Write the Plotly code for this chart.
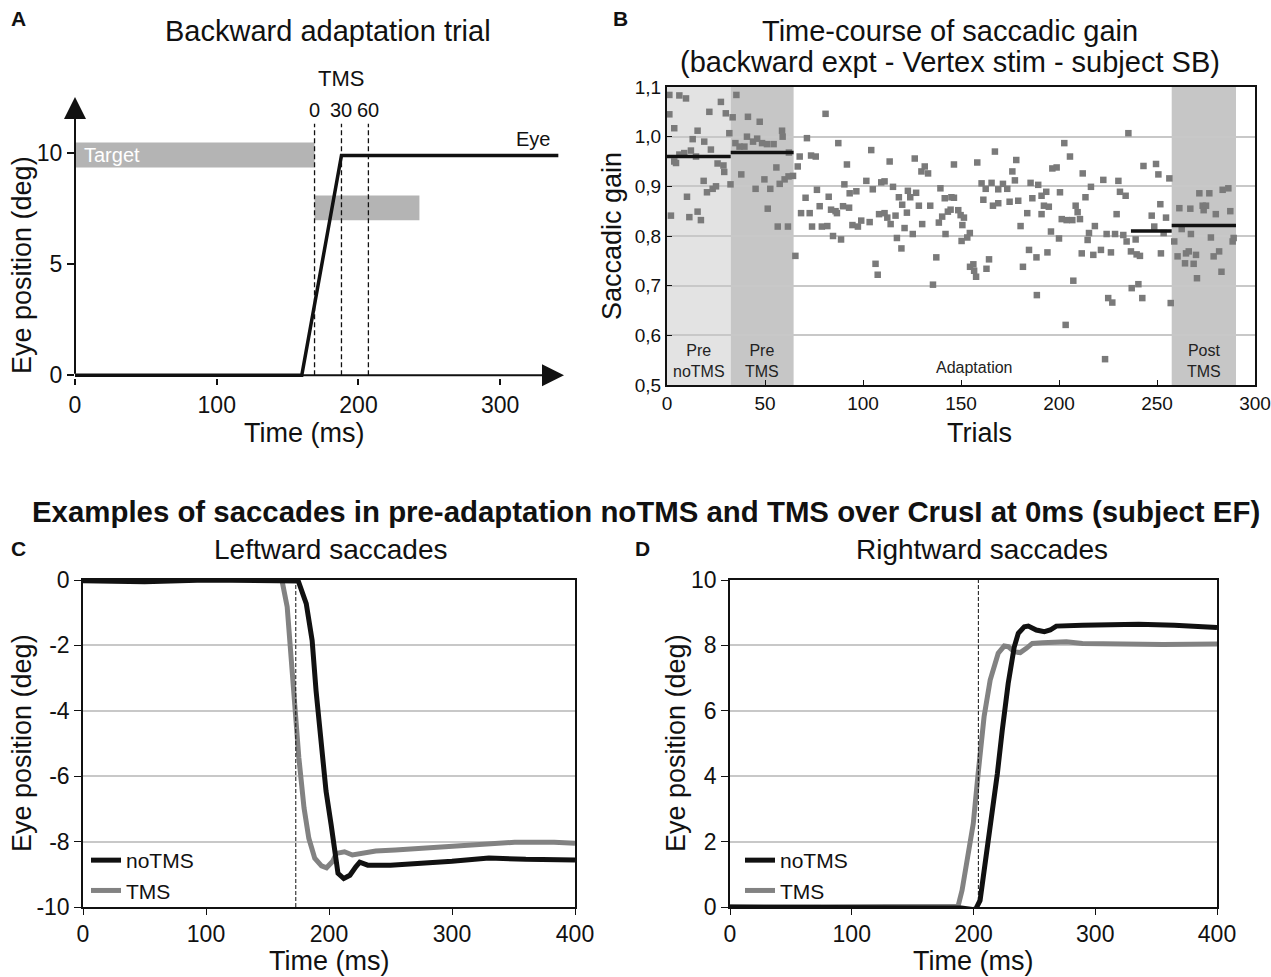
import plotly.graph_objects as go

W, H = 1271, 977
FONT = "Liberation Sans, Arial, sans-serif"
BLACK = "#111111"
GREY = "#828282"
BAR_GREY = "#b4b4b4"
GRID = "#c8c8c8"

# ---------------- A : schematic of a backward adaptation trial
EYE_T = [0, 160, 188, 341]
EYE_POS = [0, 0, 9.87, 9.87]
TARGET1_T = [0, 169]
TARGET1_POS = [9.33, 10.46]
TARGET2_T = [169, 243]
TARGET2_POS = [6.96, 8.08]
TMS_T = [169, 188, 207]
TMS_LABELS = ["0", "30", "60"]

# ---------------- B : saccadic gain per trial (subject SB)
PRE_NOTMS_TRIAL = [1.2, 1.2, 2.0, 3.7, 3.7, 4.6, 6.3, 6.3, 8.8, 9.7, 10.2, 11.4, 12.2, 13.1, 14.8, 15.6,
                   15.6, 17.3, 18.7, 19.0, 20.4, 21.6, 22.4, 23.3, 25.0, 25.8, 27.5, 28.8, 29.2, 30.0, 31.8, 32.4]
PRE_NOTMS_GAIN = [1.084, 1.045, 0.841, 1.017, 0.950, 0.947, 1.083, 0.964, 0.967, 1.077, 0.879, 0.838, 0.972, 0.995,
                  0.960, 1.012, 0.849, 0.832, 0.911, 0.990, 0.888, 1.050, 0.974, 0.895, 0.900, 0.946, 1.070, 0.942,
                  0.929, 1.047, 1.007, 0.904]
PRE_TMS_TRIAL = [33.5, 34.9, 35.4, 37.0, 37.9, 39.5, 40.8, 41.3, 43.9, 45.2, 46.0, 47.3, 48.5, 49.7, 51.0, 51.4,
                 52.7, 54.4, 55.8, 56.5, 57.5, 58.7, 59.0, 60.0, 61.7, 62.0, 62.2, 64.3]
PRE_TMS_GAIN = [1.039, 0.987, 1.084, 0.980, 0.924, 0.980, 1.000, 1.040, 0.990, 0.895, 0.996, 1.030, 0.987, 0.914,
                0.985, 0.855, 0.895, 0.985, 0.938, 0.819, 0.905, 1.012, 1.000, 0.914, 0.819, 0.920, 0.968, 0.921]
ADAPT_TRIAL = [65.5, 66.7, 67.7, 68.4, 70.7, 71.4, 72.8, 73.5, 74.0, 75.9, 76.5, 77.9, 79.0, 80.9, 81.8, 82.5,
               83.7, 84.7, 86.0, 86.7, 87.4, 88.8, 89.8, 90.5, 91.8, 92.9, 93.2, 94.6,
               96.6, 97.4, 99.1, 101.7, 103.4, 104.2, 105.0, 106.4, 107.5, 108.2, 109.3, 111.0, 111.0, 112.4,
               113.6, 114.1, 115.3, 116.6, 117.3, 118.3, 119.6, 120.0, 121.2, 122.4, 122.9, 124.1, 125.4, 126.4,
               127.1, 128.5, 129.8, 130.2, 131.5, 133.2, 134.3, 135.7, 137.4, 138.7, 139.5, 140.4, 141.7, 142.1,
               143.3, 144.7, 145.1,
               146.4, 146.4, 148.6, 149.8, 150.3, 150.7, 151.5, 153.2, 154.5, 154.6, 156.3, 156.7, 157.7, 158.3,
               160.5, 161.4, 162.6, 163.0, 164.3, 165.6, 166.3, 167.3, 169.0, 169.0, 171.4, 173.6, 174.8, 176.2,
               177.5, 178.2, 179.2, 180.4, 181.6, 183.8, 184.7, 185.5, 186.4, 188.5, 188.7, 189.4, 191.1, 191.1,
               192.3, 193.5, 194.1, 194.8, 195.9, 196.6,
               198.8, 200.0, 200.5, 201.4, 202.7, 203.4, 203.9, 205.6, 206.8, 207.3, 208.5, 209.5, 210.7, 211.6,
               212.1, 213.5, 214.6, 215.3, 216.3, 217.5, 218.3, 221.4, 222.6, 223.5, 224.3, 225.1, 226.5, 227.2,
               228.6, 229.4, 230.3, 231.1, 232.8, 234.0, 234.5, 235.4, 236.7, 237.1, 239.1, 239.6, 240.5, 241.3,
               242.5, 243.1,
               247.3, 248.6, 249.5, 250.7, 251.7, 252.0, 253.4, 254.6, 256.3, 257.0]
ADAPT_GAIN = [0.760, 0.940, 0.960, 0.846, 0.877, 0.997, 0.846, 0.962, 0.819, 0.960, 0.893, 0.860, 0.819, 1.046,
              0.820, 0.879, 0.853, 0.800, 0.850, 0.846, 0.987, 0.793, 0.860, 0.904, 0.944, 0.857, 0.886, 0.822,
              0.890, 0.819, 0.831, 0.911, 0.828, 0.973, 0.894, 0.744, 0.722, 0.844, 0.908, 0.910, 0.846, 0.837,
              0.950, 0.824, 0.899, 0.841, 0.796, 0.878, 0.775, 0.863, 0.816, 0.847, 0.891, 0.878, 0.804, 0.956,
              0.887, 0.861, 0.930, 0.824, 0.940, 0.926, 0.861, 0.702, 0.757, 0.827, 0.896, 0.839, 0.876, 0.804,
              0.849, 0.853, 0.878,
              0.944, 0.877, 0.852, 0.842, 0.790, 0.822, 0.837, 0.797, 0.806, 0.738, 0.743, 0.730, 0.718, 0.948,
              0.906, 0.873, 0.895, 0.734, 0.753, 0.907, 0.861, 0.970, 0.894, 0.866, 0.905, 0.895, 0.869, 0.930,
              0.912, 0.953, 0.871, 0.820, 0.738, 0.846, 0.772, 0.907, 0.876, 0.757, 0.681, 0.903, 0.881, 0.844,
              0.861, 0.889, 0.767, 0.859, 0.809, 0.936,
              0.938, 0.795, 0.888, 0.834, 0.987, 0.621, 0.832, 0.960, 0.832, 0.710, 0.861, 0.848, 0.834, 0.765,
              0.926, 0.878, 0.792, 0.806, 0.899, 0.762, 0.820, 0.772, 0.913, 0.552, 0.804, 0.675, 0.767, 0.666,
              0.804, 0.844, 0.911, 0.889, 0.802, 0.881, 0.789, 1.007, 0.769, 0.695, 0.793, 0.763, 0.703, 0.760,
              0.675, 0.941,
              0.841, 0.819, 0.945, 0.924, 0.864, 0.765, 0.806, 0.837, 0.916, 0.665]
POST_TMS_TRIAL = [258.8, 260.5, 261.4, 262.6, 264.3, 264.8, 266.2, 267.0, 267.3, 268.7, 269.9, 270.4, 271.6, 273.3,
                  273.8, 275.0, 276.7, 277.5, 278.9, 280.0, 281.7, 282.9, 283.5, 286.4, 287.4, 288.6, 289.1]
POST_TMS_GAIN = [0.789, 0.759, 0.856, 0.814, 0.745, 0.765, 0.769, 0.855, 0.804, 0.744, 0.762, 0.715, 0.886, 0.861,
                 0.852, 0.861, 0.886, 0.797, 0.759, 0.844, 0.769, 0.728, 0.893, 0.896, 0.850, 0.789, 0.796]

PHASE_START = [0, 32.5, 257.5]
PHASE_END = [32.5, 64.6, 290.3]
PHASE_COLOR = ["#e3e3e3", "#c6c6c6", "#c6c6c6"]
PHASE_LABELS = ["Pre<br>noTMS", "Pre<br>TMS", "Adaptation", "Post<br>TMS"]
PHASE_LABEL_X = [16.2, 48.5, 157, 274]
PHASE_LABEL_Y = [0.548, 0.548, 0.535, 0.548]
MEAN_START = [0, 32.5, 236.7, 257.5]
MEAN_END = [32.5, 64.6, 257.5, 290.3]
MEAN_GAIN = [0.960, 0.968, 0.810, 0.821]
GAIN_TICKS = [0.5, 0.6, 0.7, 0.8, 0.9, 1.0, 1.1]
GAIN_TICKTEXT = ["0,5", "0,6", "0,7", "0,8", "0,9", "1,0", "1,1"]

# ---------------- C : leftward saccades (subject EF)
C_NOTMS_T = [0, 50, 100, 150, 170, 175, 181.5, 186.3, 189.5, 193.4, 197.6, 201.8, 205, 207.3, 212, 217, 221.8,
             225, 231.5, 250, 300, 330, 360, 400]
C_NOTMS_POS = [-0.02, -0.05, 0.0, -0.02, 0.0, -0.03, -0.72, -1.85, -3.4, -4.9, -6.46, -7.5, -8.3, -8.97, -9.13,
               -9.03, -8.77, -8.63, -8.72, -8.72, -8.6, -8.5, -8.54, -8.56]
C_TMS_T = [0, 50, 100, 150, 158, 161.7, 166, 169, 172.3, 175.5, 179.7, 183.6, 188.4, 193.9, 198, 203, 206, 212.6,
           219, 225.4, 238, 254, 286.6, 318.8, 351, 383, 400]
C_TMS_POS = [0.05, 0.05, 0.04, 0.05, 0.1, 0.0, -0.82, -2.36, -3.9, -5.44, -6.97, -7.9, -8.51, -8.74, -8.8, -8.6,
             -8.36, -8.31, -8.41, -8.36, -8.29, -8.26, -8.18, -8.08, -8.02, -8.02, -8.05]
C_PULSE_T = 173

# ---------------- D : rightward saccades
D_NOTMS_T = [0, 100, 190, 200, 202, 205.4, 210.4, 215.3, 219.6, 223.6, 228.5, 233.5, 236.8, 241.7, 245, 251.6,
             258.2, 263, 268, 289.5, 335.7, 365, 400]
D_NOTMS_POS = [0.0, -0.02, -0.03, -0.08, -0.05, 0.2, 1.53, 3.06, 4.08, 5.4, 6.84, 7.96, 8.37, 8.57, 8.59, 8.47,
               8.42, 8.47, 8.59, 8.62, 8.65, 8.62, 8.55]
D_TMS_T = [0, 100, 187.3, 190.6, 195.5, 199.8, 203.8, 208.7, 213.7, 217, 220.3, 225.2, 228.5, 233.5, 238.4, 243.4,
           248.3, 256.6, 276.3, 289.5, 322.5, 355.5, 400]
D_TMS_POS = [0.0, 0.0, 0.02, 0.51, 1.73, 2.55, 4.08, 5.82, 6.94, 7.35, 7.76, 7.98, 7.96, 7.8, 7.78, 7.91, 8.06,
             8.08, 8.11, 8.06, 8.04, 8.03, 8.04]
D_PULSE_T = 204


def xdom(left, right):
    return [left / W, right / W]


def ydom(top, bottom):
    return [1 - bottom / H, 1 - top / H]


def note(text, x, y, size, bold=False, angle=0, color=BLACK):
    if bold:
        text = "<b>" + text + "</b>"
    return dict(text=text, x=x / W, y=1 - y / H, xref="paper", yref="paper", showarrow=False,
                xanchor="center", yanchor="middle",
                font=dict(family=FONT, size=size, color=color), textangle=angle)


fig = go.Figure()

# A
for t, pos in [(TARGET1_T, TARGET1_POS), (TARGET2_T, TARGET2_POS)]:
    fig.add_trace(go.Scatter(x=[t[0], t[1], t[1], t[0], t[0]], y=[pos[0], pos[0], pos[1], pos[1], pos[0]],
                             mode="lines", fill="toself", fillcolor=BAR_GREY, line=dict(width=0),
                             xaxis="x", yaxis="y", showlegend=False, hoverinfo="skip"))
for t in TMS_T:
    fig.add_trace(go.Scatter(x=[t, t], y=[0, 11.3], mode="lines", line=dict(color=BLACK, width=1.3, dash="5px,3px"),
                             xaxis="x", yaxis="y", showlegend=False, hoverinfo="skip"))
fig.add_trace(go.Scatter(x=EYE_T, y=EYE_POS, mode="lines", line=dict(color=BLACK, width=3.5),
                         xaxis="x", yaxis="y", showlegend=False))

# B
for trials, gains in [(PRE_NOTMS_TRIAL, PRE_NOTMS_GAIN), (PRE_TMS_TRIAL, PRE_TMS_GAIN),
                      (ADAPT_TRIAL, ADAPT_GAIN), (POST_TMS_TRIAL, POST_TMS_GAIN)]:
    fig.add_trace(go.Scatter(x=trials, y=gains, mode="markers",
                             marker=dict(symbol="square", size=6.5, color="#7a7a7a"),
                             xaxis="x2", yaxis="y2", showlegend=False))
for t0, t1, g in zip(MEAN_START, MEAN_END, MEAN_GAIN):
    fig.add_trace(go.Scatter(x=[t0, t1], y=[g, g], mode="lines", line=dict(color=BLACK, width=3.5),
                             xaxis="x2", yaxis="y2", showlegend=False))

# C and D
for xa, ya, leg, tms_t, tms_p, no_t, no_p in [
        ("x3", "y3", "legend", C_TMS_T, C_TMS_POS, C_NOTMS_T, C_NOTMS_POS),
        ("x4", "y4", "legend2", D_TMS_T, D_TMS_POS, D_NOTMS_T, D_NOTMS_POS)]:
    fig.add_trace(go.Scatter(x=tms_t, y=tms_p, mode="lines", name="TMS", line=dict(color=GREY, width=5),
                             xaxis=xa, yaxis=ya, legend=leg, legendrank=2))
    fig.add_trace(go.Scatter(x=no_t, y=no_p, mode="lines", name="noTMS", line=dict(color=BLACK, width=5),
                             xaxis=xa, yaxis=ya, legend=leg, legendrank=1))
fig.add_trace(go.Scatter(x=[C_PULSE_T, C_PULSE_T], y=[-10, 0], mode="lines", line=dict(color=BLACK, width=1, dash="4px,2px"),
                         xaxis="x3", yaxis="y3", showlegend=False))
fig.add_trace(go.Scatter(x=[D_PULSE_T, D_PULSE_T], y=[0, 10], mode="lines", line=dict(color=BLACK, width=1, dash="4px,2px"),
                         xaxis="x4", yaxis="y4", showlegend=False))

tickfont = dict(family=FONT, size=23, color=BLACK)
smallfont = dict(family=FONT, size=19, color=BLACK)
box = dict(showline=True, mirror=True, linecolor=BLACK, zeroline=False, automargin=False)

shapes = []
for t0, t1, c in zip(PHASE_START, PHASE_END, PHASE_COLOR):
    shapes.append(dict(type="rect", xref="x2", yref="y2 domain", x0=t0, x1=t1, y0=0, y1=1,
                       fillcolor=c, line=dict(width=0), layer="below"))

annotations = [
    note("A", 18, 18, 21, bold=True),
    note("B", 620, 18, 21, bold=True),
    note("C", 18, 548, 21, bold=True),
    note("D", 642, 548, 21, bold=True),
    note("Backward adaptation trial", 328, 31, 29),
    note("TMS", 341, 78, 22),
    note("Time-course of saccadic gain", 950, 31, 29),
    note("(backward expt - Vertex stim - subject SB)", 950, 62, 29),
    note("Examples of saccades in pre-adaptation noTMS and TMS over CrusI at 0ms (subject EF)", 646, 511, 29.4, bold=True),
    note("Leftward saccades", 330, 549, 28),
    note("Rightward saccades", 982, 549, 28),
    note("Eye position (deg)", 22, 265, 27, angle=-90),
    note("Time (ms)", 304, 433, 27),
    note("Saccadic gain", 612, 236, 27, angle=-90),
    note("Trials", 980, 433, 27),
    note("Eye position (deg)", 22, 743, 27, angle=-90),
    note("Time (ms)", 329, 961, 27),
    note("Eye position (deg)", 676, 743, 27, angle=-90),
    note("Time (ms)", 973, 961, 27),
]
# axis arrows of panel A
annotations.append(dict(x=345, y=0, ax=0, ay=0, xref="x", yref="y", axref="x", ayref="y", text="",
                        showarrow=True, arrowhead=2, arrowsize=2.2, arrowwidth=2, arrowcolor=BLACK))
annotations.append(dict(x=0, y=12.5, ax=0, ay=0, xref="x", yref="y", axref="x", ayref="y", text="",
                        showarrow=True, arrowhead=2, arrowsize=2.2, arrowwidth=2, arrowcolor=BLACK))
for t, lab in zip(TMS_T, TMS_LABELS):
    annotations.append(dict(x=t, y=11.9, xref="x", yref="y", text=lab, showarrow=False,
                            font=dict(family=FONT, size=20, color=BLACK)))
annotations.append(dict(x=323, y=10.6, xref="x", yref="y", text="Eye", showarrow=False,
                        font=dict(family=FONT, size=20, color=BLACK)))
annotations.append(dict(x=5, y=9.9, xref="x", yref="y", text="Target", showarrow=False, xanchor="left",
                        font=dict(family=FONT, size=20, color="white")))
for lab, x, y in zip(PHASE_LABELS, PHASE_LABEL_X, PHASE_LABEL_Y):
    annotations.append(dict(x=x, y=y, xref="x2", yref="y2", text=lab, showarrow=False,
                            font=dict(family=FONT, size=16, color="#222222")))

fig.update_layout(
    width=W, height=H, autosize=False,
    margin=dict(l=0, r=0, t=0, b=0, pad=0, autoexpand=False),
    paper_bgcolor="white", plot_bgcolor="white",
    font=dict(family=FONT, color=BLACK),
    shapes=shapes, annotations=annotations,
    xaxis=dict(domain=xdom(75, 564), range=[0, 345], tickvals=[0, 100, 200, 300], ticks="outside",
               ticklen=6, tickwidth=1.5, tickcolor=BLACK, tickfont=tickfont, showgrid=False, zeroline=False,
               anchor="y", automargin=False),
    yaxis=dict(domain=ydom(97, 378), range=[-0.12, 12.5], tickvals=[0, 5, 10], ticks="outside",
               ticklen=7, tickwidth=1.5, tickcolor=BLACK, tickfont=tickfont, showgrid=False, zeroline=False,
               anchor="x", automargin=False),
    xaxis2=dict(domain=xdom(667, 1255), range=[0, 300], tickvals=[0, 50, 100, 150, 200, 250, 300],
                ticks="inside", ticklen=5, tickcolor=BLACK, tickfont=smallfont,
                showgrid=False, anchor="y2", linewidth=2, **box),
    yaxis2=dict(domain=ydom(87, 385), range=[0.5, 1.1], tickvals=GAIN_TICKS, ticktext=GAIN_TICKTEXT,
                ticks="inside", ticklen=5, tickcolor=BLACK, tickfont=smallfont,
                showgrid=True, gridcolor=GRID, gridwidth=1.5, anchor="x2", linewidth=2, **box),
    xaxis3=dict(domain=xdom(83, 575), range=[0, 400], tickvals=[0, 100, 200, 300, 400], ticks="outside",
                ticklen=6, tickcolor=BLACK, tickfont=tickfont, showgrid=False, anchor="y3", linewidth=1.5, **box),
    yaxis3=dict(domain=ydom(580, 907), range=[-10, 0], tickvals=[-10, -8, -6, -4, -2, 0],
                ticktext=["-10", "-8", "-6", "-4", "-2", "0"], ticks="outside", ticklen=7, tickcolor=BLACK,
                tickfont=tickfont, showgrid=True, gridcolor=GRID, gridwidth=1.5, anchor="x3", linewidth=1.5, **box),
    xaxis4=dict(domain=xdom(730, 1217), range=[0, 400], tickvals=[0, 100, 200, 300, 400], ticks="outside",
                ticklen=6, tickcolor=BLACK, tickfont=tickfont, showgrid=False, anchor="y4", linewidth=1.5, **box),
    yaxis4=dict(domain=ydom(580, 907), range=[0, 10], tickvals=[0, 2, 4, 6, 8, 10], ticks="outside",
                ticklen=7, tickcolor=BLACK, tickfont=tickfont, showgrid=True, gridcolor=GRID, gridwidth=1.5,
                anchor="x4", linewidth=1.5, **box),
    legend=dict(x=86 / W, y=1 - 840 / H, xanchor="left", yanchor="top", bgcolor="rgba(0,0,0,0)",
                font=dict(family=FONT, size=21, color=BLACK), itemwidth=30, tracegroupgap=0),
    legend2=dict(x=740 / W, y=1 - 840 / H, xanchor="left", yanchor="top", bgcolor="rgba(0,0,0,0)",
                 font=dict(family=FONT, size=21, color=BLACK), itemwidth=30, tracegroupgap=0),
)

page_css = ("var s=document.createElement('style');"
            "s.innerHTML='html,body{margin:0;padding:0;overflow:hidden;}';"
            "document.head.appendChild(s);")
fig.write_html("out.html", post_script=page_css, config={"displayModeBar": False})
